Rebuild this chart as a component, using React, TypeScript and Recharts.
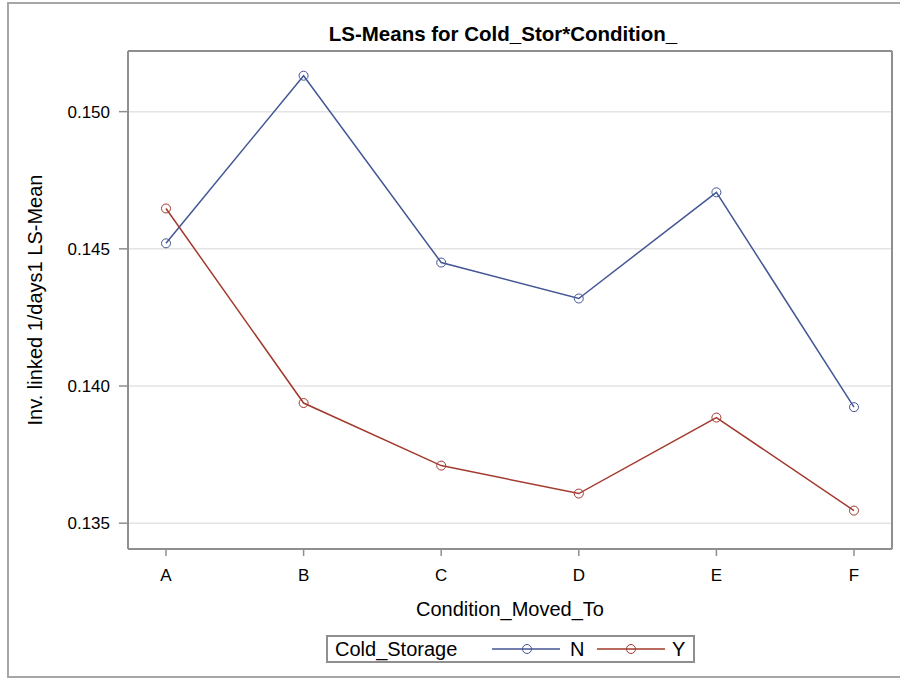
import { LineChart, Line, XAxis, YAxis, CartesianGrid } from "recharts";

const categories = ["A", "B", "C", "D", "E", "F"];
const coldN = [0.1452, 0.15131, 0.1445, 0.14319, 0.14706, 0.13923];
const coldY = [0.14647, 0.13938, 0.1371, 0.13608, 0.13885, 0.13546];
const yTicks = [0.135, 0.14, 0.145, 0.15];
const yDomain = [0.13406, 0.15221];

const FONT = "'Liberation Sans', Arial, sans-serif";
const BLUE = "#445694";
const RED = "#A23A2E";
const FRAME = "#8f8f8f";

const data = categories.map((c, i) => ({ cat: c, N: coldN[i], Y: coldY[i] }));

// frame round the plot area, taken from the chart's own offset
const frameX = ({ offset }: any) => [offset.left, offset.left + offset.width];
const frameY = ({ offset }: any) => [offset.top, offset.top + offset.height];

const YLabel = ({ viewBox }: any) => {
  const x = viewBox.x + 42;
  const y = viewBox.y + viewBox.height / 2;
  return (
    <text x={x} y={y} transform={`rotate(-90, ${x}, ${y})`} textAnchor="middle" fontSize={20} fill="#000" fontFamily={FONT}>
      Inv. linked 1/days1 LS-Mean
    </text>
  );
};

const LegendBox = () => (
  <div style={{ position: "absolute", left: 326, top: 635, width: 369, height: 28, border: `2px solid ${FRAME}`, boxSizing: "border-box", background: "#fff" }}>
    <svg width={365} height={24} style={{ display: "block" }}>
      <text x={7} y={19} fontSize={20} fontFamily={FONT} fill="#000">Cold_Storage</text>
      <line x1={164} x2={232} y1={12} y2={12} stroke={BLUE} strokeWidth={1.5} />
      <circle cx={199} cy={12} r={4.5} fill="none" stroke={BLUE} strokeWidth={1} />
      <text x={242} y={19} fontSize={20} fontFamily={FONT} fill="#000">N</text>
      <line x1={269} x2={337} y1={12} y2={12} stroke={RED} strokeWidth={1.5} />
      <circle cx={303} cy={12} r={4.5} fill="none" stroke={RED} strokeWidth={1} />
      <text x={344} y={19} fontSize={20} fontFamily={FONT} fill="#000">Y</text>
    </svg>
  </div>
);

export default function App() {
  return (
    <div style={{ position: "absolute", left: 0, top: 0, width: 900, height: 678, overflow: "hidden", background: "#fff", fontFamily: FONT }}>
      <div style={{ position: "absolute", left: 7, top: 2, width: 920, height: 676, border: "2px solid #a6a6a6", boxSizing: "border-box" }} />
      <div style={{ position: "absolute", left: 253, top: 24, width: 500, textAlign: "center", fontSize: 20.5, fontWeight: "bold", lineHeight: 1, color: "#000" }}>
        LS-Means for Cold_Stor*Condition_
      </div>
      <div style={{ position: "absolute", left: 0, top: 0 }}>
        <LineChart width={900} height={678} data={data} margin={{ top: 51, right: 8, left: 0, bottom: 59 }}>
          <CartesianGrid horizontal vertical={false} stroke="#e4e4e4" strokeWidth={1.5} />
          <CartesianGrid
            stroke={FRAME}
            strokeWidth={2}
            verticalCoordinatesGenerator={frameX}
            horizontalCoordinatesGenerator={frameY}
          />
          <XAxis
            dataKey="cat"
            height={70}
            padding={{ left: 38, right: 38 }}
            axisLine={{ stroke: FRAME, strokeWidth: 2 }}
            tickLine={{ stroke: FRAME, strokeWidth: 1.5 }}
            tickSize={7}
            tickMargin={13}
            tick={{ fontSize: 17, fill: "#000", fontFamily: FONT }}
            label={{ value: "Condition_Moved_To", position: "insideBottom", offset: 3, fontSize: 20, fill: "#000", fontFamily: FONT }}
          />
          <YAxis
            width={128}
            domain={yDomain}
            ticks={yTicks}
            allowDataOverflow
            tickFormatter={(v: number) => v.toFixed(3)}
            axisLine={{ stroke: FRAME, strokeWidth: 2 }}
            tickLine={{ stroke: FRAME, strokeWidth: 1.5 }}
            tickSize={9}
            tickMargin={9}
            tick={{ fontSize: 17, fill: "#000", fontFamily: FONT }}
            label={{ content: YLabel }}
          />
          <Line dataKey="N" stroke={BLUE} strokeWidth={1.5} dot={{ r: 4.5, fill: "none", stroke: BLUE, strokeWidth: 1 }} isAnimationActive={false} />
          <Line dataKey="Y" stroke={RED} strokeWidth={1.5} dot={{ r: 4.5, fill: "none", stroke: RED, strokeWidth: 1 }} isAnimationActive={false} />
        </LineChart>
      </div>
      <LegendBox />
    </div>
  );
}
